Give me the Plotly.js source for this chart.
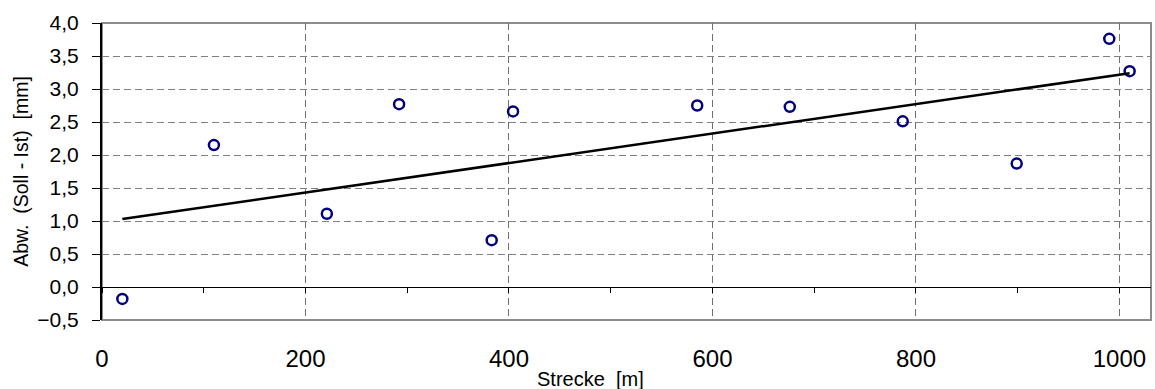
<!DOCTYPE html>
<html>
<head>
<meta charset="utf-8">
<script src="https://cdn.plot.ly/plotly-3.0.1.min.js"></script>
<style>html,body{margin:0;padding:0;background:#fff;}#chart{width:1155px;height:389px;}</style>
</head>
<body>
<div id="chart"></div>
<script>
// Measured points
const strecke = [20, 110, 221, 292, 383, 404, 585, 676, 787, 899, 990, 1010];
const abweichung = [-0.18, 2.15, 1.11, 2.77, 0.71, 2.66, 2.75, 2.73, 2.51, 1.87, 3.76, 3.27];
// Trend line end points
const trendX = [20, 1010];
const trendY = [1.03, 3.24];
// Tick values / labels
const xTicks = [0, 200, 400, 600, 800, 1000];
const yTicks = [-0.5, 0, 0.5, 1, 1.5, 2, 2.5, 3, 3.5, 4];

const FONT = 'Liberation Sans, Arial, sans-serif';
const xRange = [0, 1031];
const yRange = [-0.5, 4.0];

const traces = [
  {
    x: strecke, y: abweichung, type: 'scatter', mode: 'markers',
    marker: {symbol: 'circle-open', size: 10, color: '#000080', line: {width: 2.5, color: '#000080'}},
    xaxis: 'x', yaxis: 'y', hoverinfo: 'skip', showlegend: false
  },
  {
    x: trendX, y: trendY, type: 'scatter', mode: 'lines',
    line: {color: '#000000', width: 2.5},
    xaxis: 'x2', yaxis: 'y', hoverinfo: 'skip', showlegend: false
  }
];

const layout = {
  width: 1155, height: 389,
  margin: {l: 102, r: 4, t: 23, b: 69, pad: 0},
  paper_bgcolor: '#ffffff', plot_bgcolor: '#ffffff',
  separators: ',.',
  font: {family: FONT, color: '#000000', size: 20},
  showlegend: false,
  xaxis: {
    range: xRange, tickvals: xTicks, ticktext: xTicks.map(String),
    showgrid: true, gridcolor: '#707070', gridwidth: 1, griddash: '7px,4px',
    zeroline: false, showline: false, ticks: '',
    ticklabelstandoff: 22,
    tickfont: {family: FONT, size: 24, color: '#000'}
  },
  xaxis2: {
    range: xRange, overlaying: 'x', anchor: 'free',
    position: (0 - yRange[0]) / (yRange[1] - yRange[0]),
    showline: true, linecolor: '#000000', linewidth: 1,
    ticks: 'outside', dtick: 100, tick0: 0, ticklen: 5, tickcolor: '#000', tickwidth: 1,
    showticklabels: false, showgrid: false, zeroline: false
  },
  yaxis: {
    range: yRange, tickvals: yTicks, tickformat: '.1f',
    showgrid: true, gridcolor: '#808080', gridwidth: 1, griddash: '7px,4px',
    zeroline: false, showline: true, linecolor: '#000000', linewidth: 2,
    ticks: 'outside', ticklen: 8, tickcolor: '#000', tickwidth: 1,
    ticklabelstandoff: 9,
    tickfont: {family: FONT, size: 21, color: '#000'},
    title: {text: 'Abw.\u00a0\u00a0(Soll - Ist)\u00a0\u00a0[mm]', font: {family: FONT, size: 19.5, color: '#000'}, standoff: 4}
  },
  annotations: [{
    text: 'Strecke\u00a0\u00a0[m]', xref: 'paper', yref: 'paper',
    x: (590 - 102) / 1049, y: (320 - 379) / 297, xanchor: 'center', yanchor: 'middle',
    showarrow: false, font: {family: FONT, size: 20, color: '#000'}
  }],
  shapes: [{
    type: 'rect', xref: 'paper', yref: 'paper', x0: 0, x1: 1, y0: 0, y1: 1,
    line: {color: '#8c8c8c', width: 2}, fillcolor: 'rgba(0,0,0,0)', layer: 'between'
  }]
};

Plotly.newPlot('chart', traces, layout, {staticPlot: true, displayModeBar: false});
</script>
</body>
</html>
